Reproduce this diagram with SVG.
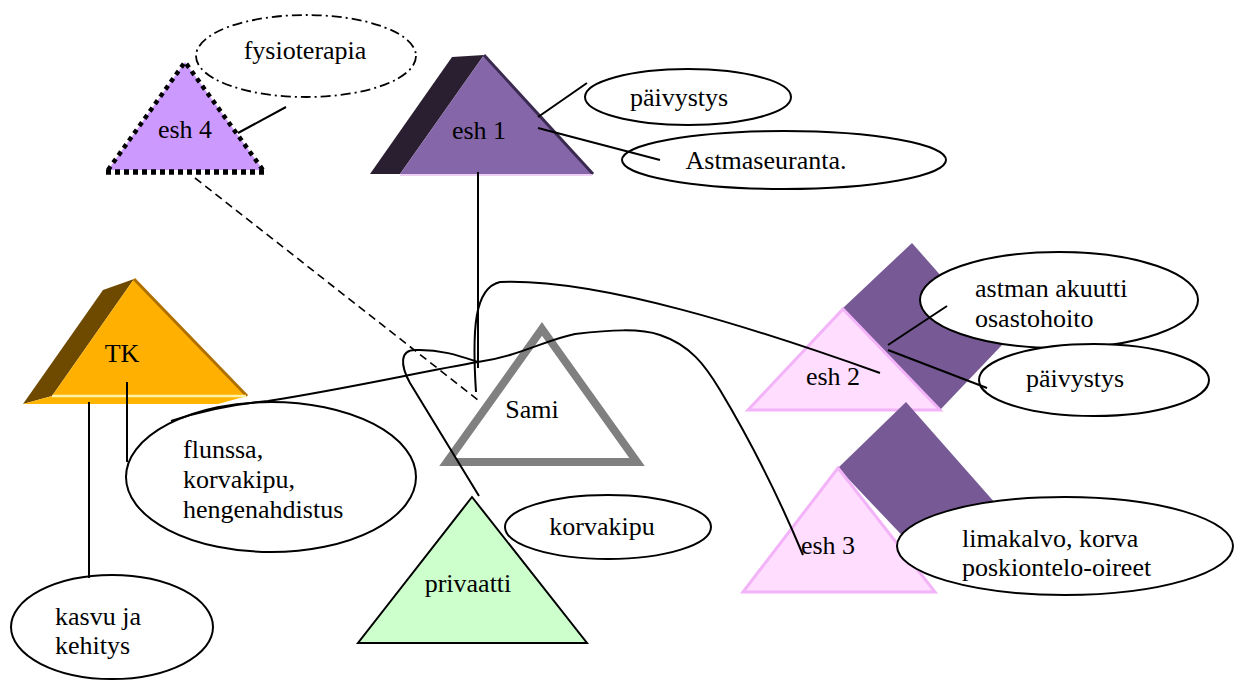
<svg xmlns="http://www.w3.org/2000/svg" width="1234" height="682" viewBox="0 0 1234 682">
<style>
text{font-family:"Liberation Serif","DejaVu Serif","Noto Serif",Times,serif;font-size:26px;fill:#000}
.c{text-anchor:middle}
.ell{fill:#fff;stroke:#000;stroke-width:2}
.ln{fill:none;stroke:#000;stroke-width:2}
.dk{fill:#775a95}
.pk{fill:#ffddff;stroke:#f3b3f8;stroke-width:3}
</style>
<rect width="1234" height="682" fill="#fff"/>
<g id="esh4">
<polygon points="185,62 263,170 108,170" fill="#cc99ff"/>
<polyline points="108,170 185,62 263,170" fill="none" stroke="#000" stroke-width="4.5" stroke-dasharray="4.5 4.5"/>
<line x1="106" y1="172" x2="266" y2="172" stroke="#000" stroke-width="5.5" stroke-dasharray="5 4"/>
<text class="c" x="185" y="138">esh 4</text>
</g>
<g id="fysioterapia">
<ellipse cx="306" cy="56" rx="110" ry="41" fill="#fff" stroke="#000" stroke-width="1.8" stroke-dasharray="10 4 2 4"/>
<text class="c" x="305" y="59">fysioterapia</text>
</g>
<g id="esh1">
<polygon points="452,57 484,55 400,174 370,174" fill="#2a1f30"/>
<polygon points="484,55 593,174 400,174" fill="#8566a8"/>
<line x1="484" y1="55" x2="593" y2="174" stroke="#3a2a50" stroke-width="3"/>
<line x1="400" y1="175" x2="592" y2="175" stroke="#efd0f5" stroke-width="2"/>
<text class="c" x="479" y="139">esh 1</text>
</g>
<g id="paivystys1">
<ellipse class="ell" cx="688" cy="97" rx="103" ry="28"/>
<text class="c" x="679" y="106">päivystys</text>
</g>
<g id="astmaseuranta">
<ellipse class="ell" cx="784" cy="160" rx="162" ry="29"/>
<text class="c" x="766" y="169">Astmaseuranta.</text>
</g>
<g id="tk">
<polygon points="103,290 134,279 52,396 23,404" fill="#6e4a00"/>
<polygon points="23,404 52,396 247,396 218,404" fill="#ffb400"/>
<polygon points="134,279 247,396 52,396" fill="#ffb000"/>
<line x1="134" y1="279" x2="247" y2="396" stroke="#b07000" stroke-width="3"/>
<line x1="52" y1="396" x2="246" y2="396" stroke="#fff2a8" stroke-width="2.5"/>
<text class="c" x="122" y="362">TK</text>
</g>
<g id="flunssa">
<ellipse class="ell" cx="271" cy="477" rx="145" ry="75"/>
<text x="183" y="458">flunssa,</text>
<text x="183" y="488">korvakipu,</text>
<text x="183" y="518">hengenahdistus</text>
</g>
<g id="kasvu">
<ellipse class="ell" cx="112" cy="627" rx="101" ry="52"/>
<text x="55" y="625">kasvu ja</text>
<text x="55" y="654">kehitys</text>
</g>
<g id="sami">
<polygon points="542,329 637,462 447,462" fill="none" stroke="#808080" stroke-width="8"/>
<text class="c" x="532" y="418">Sami</text>
</g>
<g id="privaatti">
<polygon points="472,497 587,643 358,643" fill="#ccffcc" stroke="#000" stroke-width="2"/>
<text class="c" x="468" y="592">privaatti</text>
</g>
<g id="korvakipu">
<ellipse class="ell" cx="608" cy="527" rx="103" ry="32"/>
<text class="c" x="602" y="535">korvakipu</text>
</g>
<g id="esh2">
<polygon class="dk" points="912,243 1002,345 940,410 843,308"/>
<polygon class="pk" points="843,309 940,410 748,410"/>
<text class="c" x="833" y="385">esh 2</text>
</g>
<g id="astman">
<ellipse class="ell" cx="1059" cy="300" rx="139" ry="48"/>
<text x="975" y="297">astman akuutti</text>
<text x="975" y="327">osastohoito</text>
</g>
<g id="paivystys2">
<ellipse class="ell" cx="1094" cy="380" rx="115" ry="36"/>
<text class="c" x="1075" y="387">päivystys</text>
</g>
<g id="esh3">
<polygon class="dk" points="906,402 996,504 934,569 838,468"/>
<polygon class="pk" points="838,468 935,592 743,592"/>
<text class="c" x="828" y="554">esh 3</text>
</g>
<g id="limakalvo">
<ellipse class="ell" cx="1065" cy="546" rx="168" ry="49"/>
<text x="962" y="547">limakalvo, korva</text>
<text x="962" y="576">poskiontelo-oireet</text>
</g>
<g id="connectors">
<line class="ln" x1="238" y1="133" x2="286" y2="107"/>
<line class="ln" x1="538" y1="117" x2="587" y2="83"/>
<line class="ln" x1="538" y1="128" x2="660" y2="160"/>
<line class="ln" x1="478" y1="172" x2="478" y2="368"/>
<line x1="195" y1="178" x2="478" y2="400" stroke="#000" stroke-width="1.6" stroke-dasharray="8 5"/>
<line class="ln" x1="127" y1="382" x2="127" y2="462"/>
<line class="ln" x1="89" y1="402" x2="89" y2="578"/>
<path class="ln" d="M476,392 C472,330 474,288 500,282 C600,278 760,330 880,373"/>
<path class="ln" d="M171,421 C210,408 245,403 268,401 C350,388 420,372 478,362 C520,356 545,340 575,334 C610,330 640,328 660,335 C690,345 705,365 720,390 C750,440 780,500 803,555"/>
<path class="ln" d="M479,496 L410,383 C400,365 400,350 415,350 C440,349 460,356 478,362"/>
<line class="ln" x1="888" y1="345" x2="947" y2="306"/>
<line class="ln" x1="888" y1="350" x2="987" y2="388"/>
</g>
</svg>
